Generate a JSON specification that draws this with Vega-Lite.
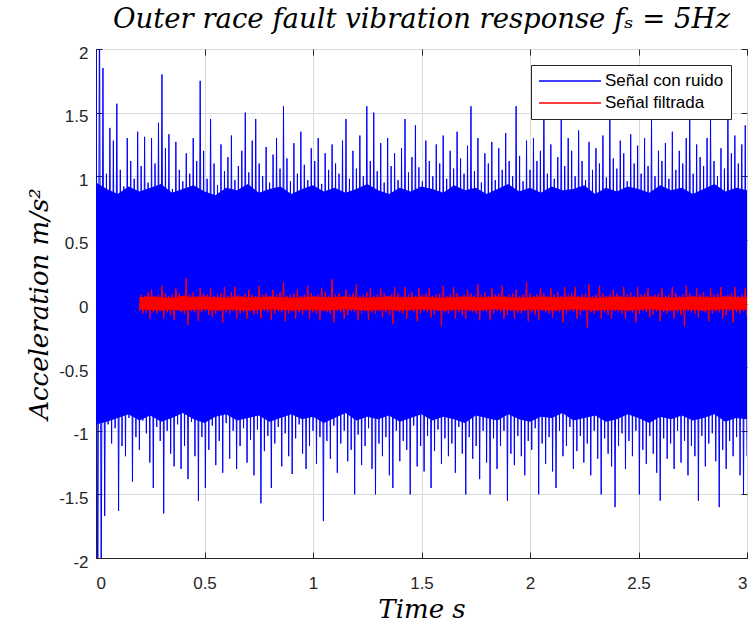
{
"$schema":"https://vega.github.io/schema/vega-lite/v6.json",
"width":651,"height":509,
"autosize":{"type":"none"},
"padding":{"left":96,"top":49,"right":6,"bottom":65},
"background":"white",
"title":{"text":"Outer race fault vibration response fₛ = 5Hz","font":"DejaVu Serif","fontStyle":"italic","fontWeight":"normal","fontSize":27.5,"color":"#000000","anchor":"middle","frame":"group","baseline":"alphabetic","offset":19,"dy":30},
"config":{
"view":{"stroke":"#262626","strokeWidth":1},
"axis":{"labelFont":"Liberation Sans","labelFontSize":17,"labelColor":"#262626","tickColor":"#262626","domainColor":"#262626","domainWidth":1,"tickSize":-6,"gridColor":"#dadada","gridWidth":1,"titleFont":"DejaVu Serif","titleFontStyle":"italic","titleFontWeight":"normal","titleFontSize":26,"titleColor":"#000000","labelExpr":"'' + datum.value"}
},
"datasets":{
"core":[
{"t":0,"hi":0.95,"lo":-0.95},{"t":0.05,"hi":0.9,"lo":-0.93},{"t":0.1,"hi":0.86,"lo":-0.9},{"t":0.15,"hi":0.92,"lo":-0.87},
{"t":0.2,"hi":0.88,"lo":-0.92,"rh":0.05,"rl":-0.05},{"t":0.25,"hi":0.91,"lo":-0.88,"rh":0.055,"rl":-0.05},{"t":0.3,"hi":0.94,"lo":-0.93,"rh":0.05,"rl":-0.055},{"t":0.35,"hi":0.87,"lo":-0.9,"rh":0.045,"rl":-0.05},
{"t":0.4,"hi":0.9,"lo":-0.86,"rh":0.06,"rl":-0.055},{"t":0.45,"hi":0.93,"lo":-0.91,"rh":0.05,"rl":-0.05},{"t":0.5,"hi":0.88,"lo":-0.94,"rh":0.055,"rl":-0.045},{"t":0.55,"hi":0.85,"lo":-0.89,"rh":0.05,"rl":-0.055},
{"t":0.6,"hi":0.91,"lo":-0.87,"rh":0.045,"rl":-0.05},{"t":0.65,"hi":0.89,"lo":-0.92,"rh":0.055,"rl":-0.05},{"t":0.7,"hi":0.94,"lo":-0.9,"rh":0.05,"rl":-0.055},{"t":0.75,"hi":0.87,"lo":-0.88,"rh":0.05,"rl":-0.05},
{"t":0.8,"hi":0.9,"lo":-0.93,"rh":0.055,"rl":-0.045},{"t":0.85,"hi":0.92,"lo":-0.9,"rh":0.05,"rl":-0.05},{"t":0.9,"hi":0.86,"lo":-0.87,"rh":0.045,"rl":-0.055},{"t":0.95,"hi":0.9,"lo":-0.91,"rh":0.05,"rl":-0.05},
{"t":1.0,"hi":0.93,"lo":-0.89,"rh":0.055,"rl":-0.05},{"t":1.05,"hi":0.88,"lo":-0.94,"rh":0.05,"rl":-0.055},{"t":1.1,"hi":0.91,"lo":-0.9,"rh":0.05,"rl":-0.05},{"t":1.15,"hi":0.87,"lo":-0.86,"rh":0.055,"rl":-0.045},
{"t":1.2,"hi":0.9,"lo":-0.92,"rh":0.05,"rl":-0.05},{"t":1.25,"hi":0.94,"lo":-0.89,"rh":0.045,"rl":-0.055},{"t":1.3,"hi":0.89,"lo":-0.91,"rh":0.05,"rl":-0.05},{"t":1.35,"hi":0.86,"lo":-0.88,"rh":0.055,"rl":-0.05},
{"t":1.4,"hi":0.91,"lo":-0.93,"rh":0.05,"rl":-0.055},{"t":1.45,"hi":0.88,"lo":-0.9,"rh":0.05,"rl":-0.05},{"t":1.5,"hi":0.92,"lo":-0.87,"rh":0.055,"rl":-0.045},{"t":1.55,"hi":0.9,"lo":-0.92,"rh":0.05,"rl":-0.05},
{"t":1.6,"hi":0.87,"lo":-0.89,"rh":0.045,"rl":-0.055},{"t":1.65,"hi":0.93,"lo":-0.91,"rh":0.05,"rl":-0.05},{"t":1.7,"hi":0.89,"lo":-0.94,"rh":0.055,"rl":-0.05},{"t":1.75,"hi":0.91,"lo":-0.88,"rh":0.05,"rl":-0.055},
{"t":1.8,"hi":0.86,"lo":-0.9,"rh":0.05,"rl":-0.05},{"t":1.85,"hi":0.9,"lo":-0.92,"rh":0.055,"rl":-0.045},{"t":1.9,"hi":0.94,"lo":-0.87,"rh":0.05,"rl":-0.05},{"t":1.95,"hi":0.88,"lo":-0.91,"rh":0.045,"rl":-0.055},
{"t":2.0,"hi":0.91,"lo":-0.93,"rh":0.05,"rl":-0.05},{"t":2.05,"hi":0.87,"lo":-0.89,"rh":0.055,"rl":-0.05},{"t":2.1,"hi":0.92,"lo":-0.9,"rh":0.05,"rl":-0.055},{"t":2.15,"hi":0.89,"lo":-0.86,"rh":0.05,"rl":-0.05},
{"t":2.2,"hi":0.9,"lo":-0.92,"rh":0.055,"rl":-0.045},{"t":2.25,"hi":0.93,"lo":-0.9,"rh":0.05,"rl":-0.05},{"t":2.3,"hi":0.86,"lo":-0.88,"rh":0.045,"rl":-0.055},{"t":2.35,"hi":0.91,"lo":-0.93,"rh":0.05,"rl":-0.05},
{"t":2.4,"hi":0.88,"lo":-0.91,"rh":0.055,"rl":-0.05},{"t":2.45,"hi":0.92,"lo":-0.87,"rh":0.05,"rl":-0.055},{"t":2.5,"hi":0.9,"lo":-0.9,"rh":0.05,"rl":-0.05},{"t":2.55,"hi":0.87,"lo":-0.94,"rh":0.055,"rl":-0.045},
{"t":2.6,"hi":0.93,"lo":-0.89,"rh":0.05,"rl":-0.05},{"t":2.65,"hi":0.89,"lo":-0.91,"rh":0.045,"rl":-0.055},{"t":2.7,"hi":0.91,"lo":-0.88,"rh":0.05,"rl":-0.05},{"t":2.75,"hi":0.86,"lo":-0.92,"rh":0.055,"rl":-0.05},
{"t":2.8,"hi":0.9,"lo":-0.9,"rh":0.05,"rl":-0.055},{"t":2.85,"hi":0.94,"lo":-0.87,"rh":0.05,"rl":-0.05},{"t":2.9,"hi":0.88,"lo":-0.93,"rh":0.055,"rl":-0.045},{"t":2.95,"hi":0.91,"lo":-0.9,"rh":0.05,"rl":-0.05},
{"t":3.0,"hi":0.89,"lo":-0.91,"rh":0.05,"rl":-0.05}
],
"sig":[
{"t":0,"b":2.6},{"t":0.008,"b":-2.6},{"t":0.016,"b":2.5},{"t":0.024,"b":-2.3},{"t":0.032,"b":1.85},{"t":0.04,"b":-1.67},{"t":0.048,"b":1.02},{"t":0.056,"b":-0.95},{"t":0.064,"b":1.38},{"t":0.072,"b":-1.1},
{"t":0.08,"b":1.28},{"t":0.088,"b":-0.98},{"t":0.096,"b":1.57},{"t":0.104,"b":-1.63},{"t":0.112,"b":1.05},{"t":0.12,"b":-1.12},{"t":0.128,"b":0.92},{"t":0.136,"b":-1.2},{"t":0.144,"b":1.3},{"t":0.152,"b":-0.9},
{"t":0.16,"b":1.12},{"t":0.168,"b":-1.4},{"t":0.176,"b":0.98},{"t":0.184,"b":-1.05},{"t":0.192,"b":1.35},
{"t":0.2,"b":-1.15,"r":-0.06},{"t":0.208,"b":1.08,"r":0.07},{"t":0.216,"b":-0.92,"r":-0.08},{"t":0.224,"b":1.31,"r":0.06},{"t":0.232,"b":-1.02,"r":-0.07},
{"t":0.24,"b":0.95,"r":0.09},{"t":0.248,"b":-1.25,"r":-0.12},{"t":0.256,"b":1.3,"r":0.11},{"t":0.264,"b":-1.45,"r":-0.07},{"t":0.272,"b":1.1,"r":0.06},
{"t":0.28,"b":-0.97,"r":-0.08},{"t":0.288,"b":1.42,"r":0.07},{"t":0.296,"b":-1.08,"r":-0.06},{"t":0.304,"b":1.8,"r":0.14},{"t":0.312,"b":-1.65,"r":-0.12},
{"t":0.32,"b":1.22,"r":0.08},{"t":0.328,"b":-1.0,"r":-0.07},{"t":0.336,"b":1.33,"r":0.06},{"t":0.344,"b":-1.18,"r":-0.09},{"t":0.352,"b":0.9,"r":0.07},
{"t":0.36,"b":-1.28,"r":-0.13},{"t":0.368,"b":1.27,"r":0.12},{"t":0.376,"b":-0.95,"r":-0.06},{"t":0.384,"b":1.05,"r":0.08},{"t":0.392,"b":-1.3,"r":-0.07},
{"t":0.4,"b":0.96,"r":0.06},{"t":0.408,"b":-1.12,"r":-0.08},{"t":0.416,"b":1.18,"r":0.2},{"t":0.424,"b":-1.38,"r":-0.17},{"t":0.432,"b":1.02,"r":0.07},
{"t":0.44,"b":-0.93,"r":-0.06},{"t":0.448,"b":1.3,"r":0.09},{"t":0.456,"b":-1.2,"r":-0.07},{"t":0.464,"b":1.12,"r":0.06},{"t":0.472,"b":-1.55,"r":-0.14},
{"t":0.48,"b":1.75,"r":0.12},{"t":0.488,"b":-1.05,"r":-0.07},{"t":0.496,"b":1.2,"r":0.08},{"t":0.504,"b":-1.45,"r":-0.06},{"t":0.512,"b":0.98,"r":0.07},
{"t":0.52,"b":-1.15,"r":-0.09},{"t":0.528,"b":1.45,"r":0.12},{"t":0.536,"b":-0.96,"r":-0.11},{"t":0.544,"b":1.1,"r":0.06},{"t":0.552,"b":-1.27,"r":-0.08},
{"t":0.56,"b":0.93,"r":0.07},{"t":0.568,"b":-1.08,"r":-0.06},{"t":0.576,"b":1.25,"r":0.08},{"t":0.584,"b":-1.33,"r":-0.15},{"t":0.592,"b":1.04,"r":0.13},
{"t":0.6,"b":-0.94,"r":-0.07},{"t":0.608,"b":1.15,"r":0.06},{"t":0.616,"b":-1.22,"r":-0.08},{"t":0.624,"b":1.32,"r":0.09},{"t":0.632,"b":-1.0,"r":-0.06},
{"t":0.64,"b":0.97,"r":0.13},{"t":0.648,"b":-1.3,"r":-0.12},{"t":0.656,"b":1.08,"r":0.07},{"t":0.664,"b":-1.12,"r":-0.08},{"t":0.672,"b":1.2,"r":0.06},
{"t":0.68,"b":-0.98,"r":-0.07},{"t":0.688,"b":1.5,"r":0.08},{"t":0.696,"b":-1.25,"r":-0.12},{"t":0.704,"b":1.03,"r":0.11},{"t":0.712,"b":-1.07,"r":-0.06},
{"t":0.72,"b":1.28,"r":0.07},{"t":0.728,"b":-1.35,"r":-0.09},{"t":0.736,"b":1.45,"r":0.06},{"t":0.744,"b":-0.99,"r":-0.08},{"t":0.752,"b":1.1,"r":0.14},
{"t":0.76,"b":-1.57,"r":-0.12},{"t":0.768,"b":1.0,"r":0.07},{"t":0.776,"b":-1.16,"r":-0.06},{"t":0.784,"b":1.23,"r":0.08},{"t":0.792,"b":-1.04,"r":-0.07},
{"t":0.8,"b":0.95,"r":0.06},{"t":0.808,"b":-1.45,"r":-0.13},{"t":0.816,"b":1.17,"r":0.11},{"t":0.824,"b":-1.1,"r":-0.08},{"t":0.832,"b":1.3,"r":0.07},
{"t":0.84,"b":-0.97,"r":-0.06},{"t":0.848,"b":1.06,"r":0.09},{"t":0.856,"b":-1.28,"r":-0.07},{"t":0.864,"b":1.55,"r":0.17},{"t":0.872,"b":-1.02,"r":-0.14},
{"t":0.88,"b":1.14,"r":0.06},{"t":0.888,"b":-1.2,"r":-0.08},{"t":0.896,"b":0.96,"r":0.07},{"t":0.904,"b":-1.34,"r":-0.06},{"t":0.912,"b":1.26,"r":0.08},
{"t":0.92,"b":-1.06,"r":-0.12},{"t":0.928,"b":1.02,"r":0.11},{"t":0.936,"b":-0.95,"r":-0.07},{"t":0.944,"b":1.35,"r":0.06},{"t":0.952,"b":-1.18,"r":-0.09},
{"t":0.96,"b":1.09,"r":0.07},{"t":0.968,"b":-1.3,"r":-0.06},{"t":0.976,"b":0.97,"r":0.14},{"t":0.984,"b":-1.12,"r":-0.12},{"t":0.992,"b":1.22,"r":0.08},
{"t":1.0,"b":-1.0,"r":-0.07},{"t":1.008,"b":1.12,"r":0.06},{"t":1.016,"b":-1.26,"r":-0.08},{"t":1.024,"b":1.3,"r":0.07},{"t":1.032,"b":-1.05,"r":-0.13},
{"t":1.04,"b":0.94,"r":0.12},{"t":1.048,"b":-1.71,"r":-0.06},{"t":1.056,"b":1.18,"r":0.09},{"t":1.064,"b":-1.08,"r":-0.07},{"t":1.072,"b":1.05,"r":0.06},
{"t":1.08,"b":-1.22,"r":-0.08},{"t":1.088,"b":1.25,"r":0.19},{"t":1.096,"b":-0.96,"r":-0.15},{"t":1.104,"b":1.1,"r":0.07},{"t":1.112,"b":-1.33,"r":-0.06},
{"t":1.12,"b":1.02,"r":0.08},{"t":1.128,"b":-1.1,"r":-0.07},{"t":1.136,"b":1.28,"r":0.06},{"t":1.144,"b":-1.0,"r":-0.12},{"t":1.152,"b":1.45,"r":0.11},
{"t":1.16,"b":-1.24,"r":-0.09},{"t":1.168,"b":0.98,"r":0.07},{"t":1.176,"b":-1.15,"r":-0.06},{"t":1.184,"b":1.2,"r":0.08},{"t":1.192,"b":-1.5,"r":-0.07},
{"t":1.2,"b":1.06,"r":0.15},{"t":1.208,"b":-1.03,"r":-0.13},{"t":1.216,"b":1.32,"r":0.06},{"t":1.224,"b":-1.27,"r":-0.08},{"t":1.232,"b":1.0,"r":0.07},
{"t":1.24,"b":-1.12,"r":-0.06},{"t":1.248,"b":1.55,"r":0.09},{"t":1.256,"b":-0.98,"r":-0.13},{"t":1.264,"b":1.12,"r":0.12},{"t":1.272,"b":-1.3,"r":-0.07},
{"t":1.28,"b":1.5,"r":0.06},{"t":1.288,"b":-1.5,"r":-0.08},{"t":1.296,"b":1.04,"r":0.07},{"t":1.304,"b":-1.1,"r":-0.06},{"t":1.312,"b":1.26,"r":0.12},
{"t":1.32,"b":-1.2,"r":-0.11},{"t":1.328,"b":0.95,"r":0.08},{"t":1.336,"b":-1.05,"r":-0.07},{"t":1.344,"b":1.3,"r":0.06},{"t":1.352,"b":-1.35,"r":-0.09},
{"t":1.36,"b":1.08,"r":0.07},{"t":1.368,"b":-1.45,"r":-0.16},{"t":1.376,"b":1.18,"r":0.13},{"t":1.384,"b":-1.0,"r":-0.06},{"t":1.392,"b":0.97,"r":0.08},
{"t":1.4,"b":-1.24,"r":-0.07},{"t":1.408,"b":1.22,"r":0.06},{"t":1.416,"b":-1.08,"r":-0.08},{"t":1.424,"b":1.45,"r":0.13},{"t":1.432,"b":-1.15,"r":-0.12},
{"t":1.44,"b":1.03,"r":0.07},{"t":1.448,"b":-1.5,"r":-0.06},{"t":1.456,"b":1.15,"r":0.09},{"t":1.464,"b":-0.96,"r":-0.07},{"t":1.472,"b":1.4,"r":0.06},
{"t":1.48,"b":-1.28,"r":-0.14},{"t":1.488,"b":1.07,"r":0.12},{"t":1.496,"b":-1.12,"r":-0.08},{"t":1.504,"b":0.96,"r":0.07},{"t":1.512,"b":-1.32,"r":-0.06},
{"t":1.52,"b":1.28,"r":0.08},{"t":1.528,"b":-1.04,"r":-0.07},{"t":1.536,"b":1.12,"r":0.12},{"t":1.544,"b":-1.45,"r":-0.11},{"t":1.552,"b":1.0,"r":0.06},
{"t":1.56,"b":-1.16,"r":-0.09},{"t":1.568,"b":1.25,"r":0.07},{"t":1.576,"b":-0.99,"r":-0.06},{"t":1.584,"b":1.1,"r":0.08},{"t":1.592,"b":-1.26,"r":-0.18},
{"t":1.6,"b":1.32,"r":0.14},{"t":1.608,"b":-1.06,"r":-0.07},{"t":1.616,"b":0.98,"r":0.06},{"t":1.624,"b":-1.2,"r":-0.08},{"t":1.632,"b":1.2,"r":0.07},
{"t":1.64,"b":-1.1,"r":-0.06},{"t":1.648,"b":1.06,"r":0.13},{"t":1.656,"b":-1.33,"r":-0.12},{"t":1.664,"b":1.35,"r":0.08},{"t":1.672,"b":-0.97,"r":-0.07},
{"t":1.68,"b":1.14,"r":0.06},{"t":1.688,"b":-1.18,"r":-0.09},{"t":1.696,"b":1.02,"r":0.07},{"t":1.704,"b":-1.5,"r":-0.12},{"t":1.712,"b":1.24,"r":0.11},
{"t":1.72,"b":-1.05,"r":-0.06},{"t":1.728,"b":1.55,"r":0.08},{"t":1.736,"b":-1.22,"r":-0.07},{"t":1.744,"b":1.04,"r":0.06},{"t":1.752,"b":-1.12,"r":-0.08},
{"t":1.76,"b":1.3,"r":0.15},{"t":1.768,"b":-1.38,"r":-0.13},{"t":1.776,"b":0.95,"r":0.07},{"t":1.784,"b":-1.0,"r":-0.06},{"t":1.792,"b":1.18,"r":0.09},
{"t":1.8,"b":-1.25,"r":-0.07},{"t":1.808,"b":1.1,"r":0.06},{"t":1.816,"b":-1.5,"r":-0.13},{"t":1.824,"b":1.27,"r":0.12},{"t":1.832,"b":-1.06,"r":-0.08},
{"t":1.84,"b":0.97,"r":0.07},{"t":1.848,"b":-1.3,"r":-0.06},{"t":1.856,"b":1.22,"r":0.08},{"t":1.864,"b":-1.12,"r":-0.07},{"t":1.872,"b":1.05,"r":0.14},
{"t":1.88,"b":-1.0,"r":-0.12},{"t":1.888,"b":1.34,"r":0.06},{"t":1.896,"b":-1.55,"r":-0.09},{"t":1.904,"b":1.12,"r":0.07},{"t":1.912,"b":-1.18,"r":-0.06},
{"t":1.92,"b":1.0,"r":0.08},{"t":1.928,"b":-1.27,"r":-0.12},{"t":1.936,"b":1.55,"r":0.11},{"t":1.944,"b":-1.04,"r":-0.07},{"t":1.952,"b":1.16,"r":0.06},
{"t":1.96,"b":-1.2,"r":-0.08},{"t":1.968,"b":0.96,"r":0.07},{"t":1.976,"b":-1.35,"r":-0.06},{"t":1.984,"b":1.28,"r":0.17},{"t":1.992,"b":-1.08,"r":-0.14},
{"t":2.0,"b":1.05,"r":0.08},{"t":2.008,"b":-1.15,"r":-0.07},{"t":2.016,"b":1.3,"r":0.06},{"t":2.024,"b":-0.98,"r":-0.09},{"t":2.032,"b":1.12,"r":0.07},
{"t":2.04,"b":-1.5,"r":-0.13},{"t":2.048,"b":1.2,"r":0.12},{"t":2.056,"b":-1.1,"r":-0.06},{"t":2.064,"b":1.6,"r":0.08},{"t":2.072,"b":-1.26,"r":-0.07},
{"t":2.08,"b":1.02,"r":0.06},{"t":2.088,"b":-1.05,"r":-0.08},{"t":2.096,"b":1.25,"r":0.12},{"t":2.104,"b":-1.32,"r":-0.11},{"t":2.112,"b":0.98,"r":0.07},
{"t":2.12,"b":-1.45,"r":-0.06},{"t":2.128,"b":1.15,"r":0.09},{"t":2.136,"b":-1.0,"r":-0.07},{"t":2.144,"b":1.5,"r":0.06},{"t":2.152,"b":-1.2,"r":-0.15},
{"t":2.16,"b":1.08,"r":0.13},{"t":2.168,"b":-1.12,"r":-0.08},{"t":2.176,"b":1.3,"r":0.07},{"t":2.184,"b":-0.97,"r":-0.06},{"t":2.192,"b":1.2,"r":0.08},
{"t":2.2,"b":-1.3,"r":-0.07},{"t":2.208,"b":1.0,"r":0.13},{"t":2.216,"b":-1.16,"r":-0.12},{"t":2.224,"b":1.36,"r":0.06},{"t":2.232,"b":-1.04,"r":-0.09},
{"t":2.24,"b":1.12,"r":0.07},{"t":2.248,"b":-1.25,"r":-0.06},{"t":2.256,"b":0.97,"r":0.08},{"t":2.264,"b":-1.1,"r":-0.19},{"t":2.272,"b":1.27,"r":0.15},
{"t":2.28,"b":-1.35,"r":-0.07},{"t":2.288,"b":1.05,"r":0.06},{"t":2.296,"b":-1.0,"r":-0.08},{"t":2.304,"b":1.22,"r":0.07},{"t":2.312,"b":-1.22,"r":-0.06},
{"t":2.32,"b":1.1,"r":0.14},{"t":2.328,"b":-1.5,"r":-0.12},{"t":2.336,"b":1.32,"r":0.08},{"t":2.344,"b":-1.06,"r":-0.07},{"t":2.352,"b":0.99,"r":0.06},
{"t":2.36,"b":-1.18,"r":-0.09},{"t":2.368,"b":1.5,"r":0.07},{"t":2.376,"b":-1.28,"r":-0.12},{"t":2.384,"b":1.14,"r":0.11},{"t":2.392,"b":-1.6,"r":-0.06},
{"t":2.4,"b":1.06,"r":0.08},{"t":2.408,"b":-1.12,"r":-0.07},{"t":2.416,"b":1.28,"r":0.06},{"t":2.424,"b":-1.02,"r":-0.08},{"t":2.432,"b":1.18,"r":0.13},
{"t":2.44,"b":-1.3,"r":-0.12},{"t":2.448,"b":0.96,"r":0.07},{"t":2.456,"b":-1.08,"r":-0.06},{"t":2.464,"b":1.33,"r":0.09},{"t":2.472,"b":-1.2,"r":-0.07},
{"t":2.48,"b":1.1,"r":0.06},{"t":2.488,"b":-1.0,"r":-0.15},{"t":2.496,"b":1.24,"r":0.13},{"t":2.504,"b":-1.5,"r":-0.08},{"t":2.512,"b":1.02,"r":0.07},
{"t":2.52,"b":-1.15,"r":-0.06},{"t":2.528,"b":1.3,"r":0.08},{"t":2.536,"b":-1.26,"r":-0.07},{"t":2.544,"b":1.08,"r":0.12},{"t":2.552,"b":-1.04,"r":-0.11},
{"t":2.56,"b":1.45,"r":0.06},{"t":2.568,"b":-1.18,"r":-0.09},{"t":2.576,"b":1.0,"r":0.07},{"t":2.584,"b":-1.33,"r":-0.06},{"t":2.592,"b":1.2,"r":0.08},
{"t":2.6,"b":-1.55,"r":-0.14},{"t":2.608,"b":1.12,"r":0.12},{"t":2.616,"b":-1.06,"r":-0.07},{"t":2.624,"b":1.26,"r":0.06},{"t":2.632,"b":-1.22,"r":-0.08},
{"t":2.64,"b":0.98,"r":0.07},{"t":2.648,"b":-1.1,"r":-0.06},{"t":2.656,"b":1.35,"r":0.13},{"t":2.664,"b":-1.3,"r":-0.12},{"t":2.672,"b":1.05,"r":0.08},
{"t":2.68,"b":-1.0,"r":-0.07},{"t":2.688,"b":1.2,"r":0.06},{"t":2.696,"b":-1.25,"r":-0.09},{"t":2.704,"b":1.1,"r":0.07},{"t":2.712,"b":-1.08,"r":-0.18},
{"t":2.72,"b":1.3,"r":0.14},{"t":2.728,"b":-1.35,"r":-0.06},{"t":2.736,"b":1.6,"r":0.08},{"t":2.744,"b":-1.12,"r":-0.07},{"t":2.752,"b":1.02,"r":0.06},
{"t":2.76,"b":-1.2,"r":-0.08},{"t":2.768,"b":1.25,"r":0.12},{"t":2.776,"b":-1.55,"r":-0.11},{"t":2.784,"b":1.15,"r":0.07},{"t":2.792,"b":-1.04,"r":-0.06},
{"t":2.8,"b":1.08,"r":0.09},{"t":2.808,"b":-1.28,"r":-0.07},{"t":2.816,"b":1.3,"r":0.06},{"t":2.824,"b":-1.1,"r":-0.14},{"t":2.832,"b":1.45,"r":0.12},
{"t":2.84,"b":-1.02,"r":-0.08},{"t":2.848,"b":1.12,"r":0.07},{"t":2.856,"b":-1.24,"r":-0.06},{"t":2.864,"b":1.0,"r":0.08},{"t":2.872,"b":-1.6,"r":-0.07},
{"t":2.88,"b":1.22,"r":0.13},{"t":2.888,"b":-1.15,"r":-0.12},{"t":2.896,"b":1.06,"r":0.06},{"t":2.904,"b":-1.3,"r":-0.09},{"t":2.912,"b":1.55,"r":0.07},
{"t":2.92,"b":-1.08,"r":-0.06},{"t":2.928,"b":1.18,"r":0.08},{"t":2.936,"b":-1.2,"r":-0.15},{"t":2.944,"b":1.32,"r":0.13},{"t":2.952,"b":-1.05,"r":-0.07},
{"t":2.96,"b":1.1,"r":0.06},{"t":2.968,"b":-1.35,"r":-0.08},{"t":2.976,"b":1.25,"r":0.07},{"t":2.984,"b":-1.5,"r":-0.06},{"t":2.992,"b":1.4,"r":0.12},
{"t":3.0,"b":-1.2,"r":-0.1}
]},
"resolve":{"axis":{"x":"independent","y":"independent"}},
"layer":[
{"data":{"name":"core"},"mark":{"type":"area","clip":true,"color":"#0000ff","opacity":1},
"encoding":{
"x":{"field":"t","type":"quantitative","scale":{"domain":[0,3],"nice":false,"zero":false},
"axis":{"orient":"bottom","values":[0,0.5,1,1.5,2,2.5,3],"title":"Time s","labelPadding":23,"labelBaseline":"top","titleX":325.5,"titleY":59,"titleBaseline":"alphabetic","titleAlign":"center","grid":true}},
"y":{"field":"hi","type":"quantitative","scale":{"domain":[-2,2],"nice":false,"zero":false},
"axis":{"orient":"left","values":[-2,-1.5,-1,-0.5,0,0.5,1,1.5,2],"title":"Acceleration m/s²","labelPadding":14,"labelOffset":4,"titleX":-49,"titleY":254.5,"titleAngle":-90,"titleBaseline":"alphabetic","titleAlign":"center","grid":true}},
"y2":{"field":"lo"}
}},
{"data":{"name":"sig"},"mark":{"type":"line","strokeWidth":1,"clip":true},
"encoding":{
"x":{"field":"t","type":"quantitative","axis":null},
"y":{"field":"b","type":"quantitative","axis":null},
"color":{"datum":"Señal con ruido","type":"nominal","scale":{"domain":["Señal con ruido","Señal filtrada"],"range":["#0000ff","#ff0000"]},
"legend":{"title":null,"orient":"top-right","offset":16,"symbolType":"stroke","symbolSize":3844,"symbolStrokeWidth":1.5,"clipHeight":18,"labelFont":"Liberation Sans","labelFontSize":17,"labelColor":"#000000","strokeColor":"#262626","fillColor":"#ffffff","padding":7,"rowPadding":4,"labelOffset":3}}
}},
{"data":{"name":"core"},"mark":{"type":"area","clip":true,"color":"#ff0000","opacity":1},
"encoding":{
"x":{"field":"t","type":"quantitative","axis":null},
"y":{"field":"rh","type":"quantitative","axis":null},
"y2":{"field":"rl"}
}},
{"data":{"name":"sig"},"mark":{"type":"line","strokeWidth":1,"clip":true},
"encoding":{
"x":{"field":"t","type":"quantitative","axis":{"orient":"top","values":[0,0.5,1,1.5,2,2.5,3],"labels":false,"title":null,"grid":false,"domain":false}},
"y":{"field":"r","type":"quantitative","axis":{"orient":"right","values":[-2,-1.5,-1,-0.5,0,0.5,1,1.5,2],"labels":false,"title":null,"grid":false,"domain":false}},
"color":{"datum":"Señal filtrada","type":"nominal"}
}}
]
}
